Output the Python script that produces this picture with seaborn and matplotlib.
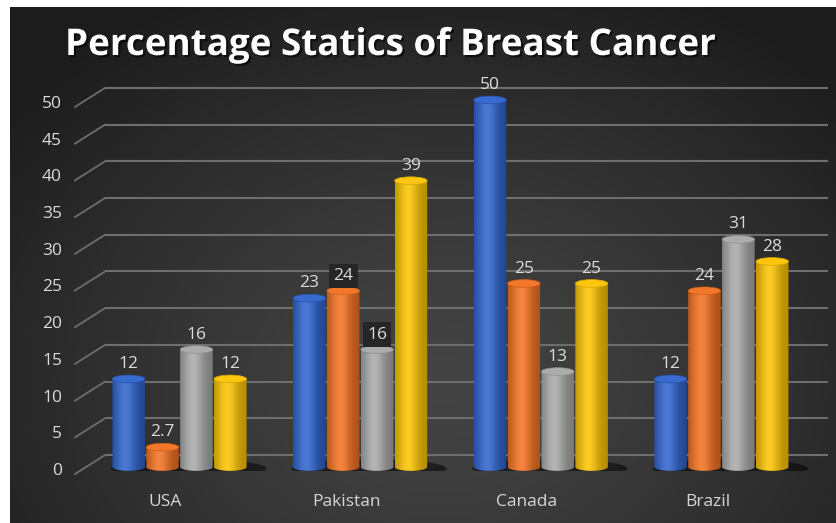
import numpy as np
import pandas as pd
import matplotlib
matplotlib.use("Agg")
import matplotlib.pyplot as plt
import seaborn as sns
from matplotlib.patches import Ellipse, PathPatch
from matplotlib.path import Path
from matplotlib.transforms import ScaledTranslation, blended_transform_factory
import matplotlib.patheffects as pe
import matplotlib.colors as mcolors

# ---- data -------------------------------------------------------------
countries = ["USA", "Pakistan", "Canada", "Brazil"]
series_names = ["Series1", "Series2", "Series3", "Series4"]
series1 = [12, 23, 50, 12]
series2 = [2.7, 24, 25, 24]
series3 = [16, 16, 13, 31]
series4 = [12, 39, 25, 28]
yticks = [0, 5, 10, 15, 20, 25, 30, 35, 40, 45, 50]
title = "Percentage Statics of Breast Cancer"

palette = ["#2d62cc", "#f2701f", "#a8a8a8", "#fbc300"]

df = pd.DataFrame({
    "country": countries * 4,
    "series": [s for s in series_names for _ in countries],
    "value": series1 + series2 + series3 + series4,
})

plt.rcParams["font.family"] = ["Open Sans", "DejaVu Sans"]

W, H = 837, 523
fig = plt.figure(figsize=(W / 100, H / 100), dpi=100)
fig.patch.set_facecolor("white")

# ---- dark radial background --------------------------------------------
bg = fig.add_axes([10 / W, 0, (W - 10) / W, (H - 7) / H], zorder=-5)
yy, xx = np.mgrid[7:H, 10:W]
d = np.sqrt(((xx - 440) / 560.0) ** 2 + ((yy - 380) / 430.0) ** 2)
lev = (0x44 - (0x44 - 0x1c) * np.clip(d, 0, 1) ** 1.3) / 255.0
bg.imshow(np.dstack([lev, lev, lev]), extent=(0, 1, 0, 1), aspect="auto",
          interpolation="bilinear")
bg.set_axis_off()

# ---- plotting axes -----------------------------------------------------
ax = fig.add_axes([100 / W, 0.1, 728 / W, 0.737])
ax.set_facecolor("none")
sns.barplot(data=df, x="country", y="value", hue="series", palette=palette,
            width=0.75, gap=0.04, saturation=1, legend=False, ax=ax)
bars = list(ax.patches)
ax.set_xlim(-0.44, 3.59)
ax.set_ylim(-0.5, 52)
for s in ax.spines.values():
    s.set_visible(False)
ax.set_xlabel("")
ax.set_ylabel("")
ax.set_yticks([])
ax.tick_params(axis="x", length=0, pad=17, labelsize=12.5, labelcolor="#d6d6d6")
shift_left = ScaledTranslation(-0.14, 0, fig.dpi_scale_trans)
for lab in ax.get_xticklabels():
    lab.set_transform(lab.get_transform() + shift_left)

grid_col = "#6e6e6e"
back = ScaledTranslation(0, 12 / 100, fig.dpi_scale_trans)
x_back = -0.44 + 5 / 180.7
x_front = -0.44 - 25 / 180.7
for v in yticks:
    # back-wall gridline
    ax.plot([x_back, 3.59], [v, v], color=grid_col, lw=1.5,
            transform=ax.transData + back, zorder=0.5, clip_on=False,
            solid_capstyle="butt")
    # receding side-wall segment
    p0 = ax.transData.transform((x_front, v)) + np.array([0, -7])
    p1 = ax.transData.transform((x_back, v)) + np.array([0, 12])
    f0, f1 = fig.transFigure.inverted().transform([p0, p1])
    ax.plot([f0[0], f1[0]], [f0[1], f1[1]], color=grid_col, lw=1.3,
            transform=fig.transFigure, zorder=0.5, clip_on=False)
    ax.text(62 / W, v, f"{v}", transform=blended_transform_factory(fig.transFigure, ax.transData)
            + ScaledTranslation(0, -4 / 100, fig.dpi_scale_trans),
            ha="right", va="center", fontsize=12.5, color="#dadada")

# floor shadows under each group
for i in range(len(countries)):
    ax.add_patch(Ellipse((i + 0.05, -0.2), 0.86, 2.6, facecolor="black",
                         alpha=0.5, edgecolor="none", zorder=0.8))

# ---- cylinder rendering of the seaborn bars ----------------------------
t = np.linspace(0, 1, 64)
hl = np.exp(-((t - 0.4) / 0.32) ** 2)
eh = 1.05  # ellipse height of the cylinder ends (data units)
boxed = {("Series2", "Pakistan"), ("Series3", "Pakistan")}
for k, patch in enumerate(bars):
    x, w, h = patch.get_x(), patch.get_width(), patch.get_height()
    if w <= 0:
        continue
    base = np.array(mcolors.to_rgb(patch.get_facecolor()))
    patch.set_visible(False)
    cx = x + w / 2
    shade = base[None, :] * (1 - 0.28 * (1 - hl[:, None])) + (1 - base[None, :]) * 0.14 * hl[:, None]
    img = np.clip(shade, 0, 1)[None, :, :]
    th = np.linspace(np.pi, 2 * np.pi, 40)
    verts = [(x, h), (x, 0)] + [(cx + w / 2 * np.cos(a), eh / 2 * np.sin(a)) for a in th] + [(x + w, h), (x, h)]
    clip = PathPatch(Path(verts), transform=ax.transData, facecolor="none", edgecolor="none")
    ax.add_patch(clip)
    im = ax.imshow(img, extent=(x, x + w, -eh / 2, h), aspect="auto",
                   interpolation="bilinear", zorder=2)
    im.set_clip_path(clip)
    cap = np.clip(base * 0.95 + 0.05, 0, 1)
    ax.add_patch(Ellipse((cx, h), w, eh, facecolor=cap, edgecolor=np.clip(base * 0.85, 0, 1),
                         lw=0.5, zorder=3))
    si, ci = k // len(countries), k % len(countries)
    kw = {}
    if (series_names[si], countries[ci]) in boxed:
        kw["bbox"] = dict(boxstyle="square,pad=0.25", facecolor="#262626", edgecolor="none")
    ax.annotate(f"{h:g}", (cx, h), xytext=(0, 5), textcoords="offset points",
                ha="center", va="bottom", fontsize=12.5, color="#dcdcdc", zorder=4, **kw)

ax.set_xlim(-0.44, 3.59)
ax.set_ylim(-0.5, 52)

fig.text(65 / W, (H - 45) / H, title, ha="left", va="center", fontsize=26.5,
         fontweight="bold", color="white",
         path_effects=[pe.withSimplePatchShadow(offset=(1.5, -1.5), shadow_rgbFace="black", alpha=0.6)])

fig.savefig("out.png", dpi=100)
